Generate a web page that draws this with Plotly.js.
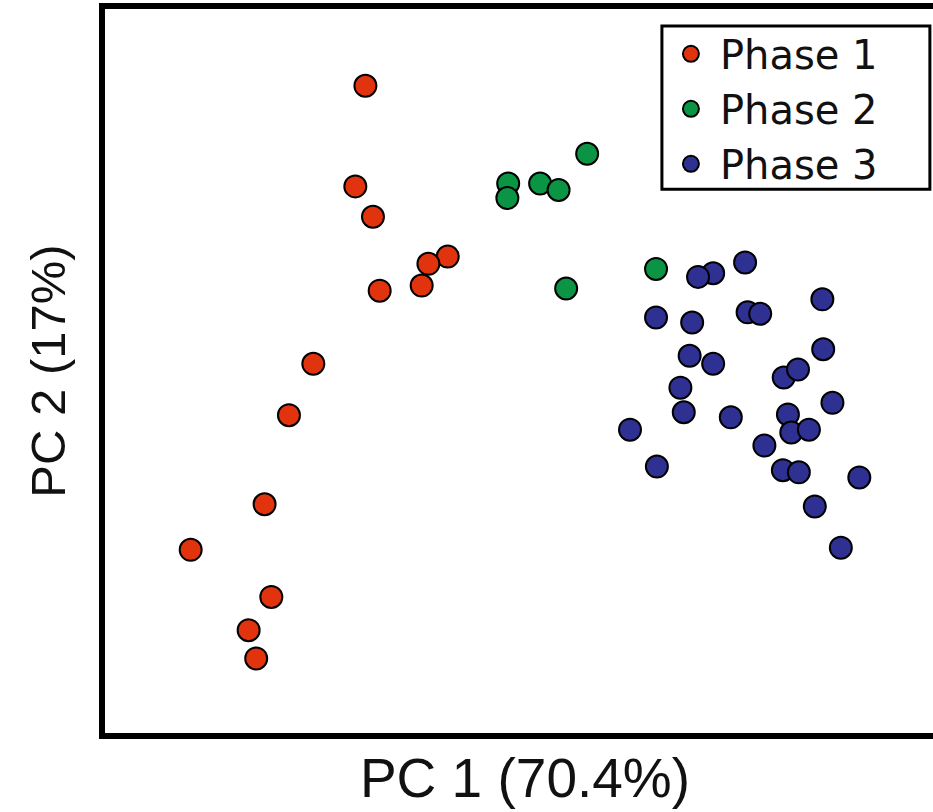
<!DOCTYPE html>
<html>
<head>
<meta charset="utf-8">
<script src="https://cdn.plot.ly/plotly-3.0.1.min.js"></script>
<style>
html,body{margin:0;padding:0;overflow:hidden;background:#fff;width:933px;height:812px;}
#chart{width:950px;height:812px;}
</style>
</head>
<body>
<div id="chart"></div>
<script>
// PCA scores (arbitrary PC units)
var phase1_pc1 = [-19.0, -20.2, -18.1, -9.2, -11.5, -12.3, -17.3, -25.2, -28.1, -31.0, -39.8, -30.2, -32.9, -32.0];
var phase1_pc2 = [39.4, 25.5, 21.3, 15.8, 14.8, 11.8, 11.1, 1.0, -6.1, -18.4, -24.7, -31.2, -35.8, -39.7];

var phase2_pc1 = [7.4, -2.0, -2.1, 1.8, 4.0, 4.9, 15.6];
var phase2_pc2 = [30.0, 25.9, 23.9, 25.9, 25.0, 11.4, 14.1];

var phase3_pc1 = [22.4, 20.6, 26.2, 35.4, 15.6, 19.9, 26.5, 28.0, 35.5, 19.6, 22.4, 30.8, 32.5, 18.5, 36.6, 18.9, 24.5, 31.3, 12.5, 31.7, 33.8, 28.5, 15.7, 30.7, 32.6, 39.8, 34.5, 37.6];
var phase3_pc2 = [13.5, 13.0, 15.0, 9.9, 7.4, 6.7, 8.1, 7.9, 3.0, 2.1, 1.0, -0.9, 0.2, -2.3, -4.4, -5.7, -6.4, -6.0, -8.1, -8.5, -8.1, -10.3, -13.2, -13.7, -14.0, -14.7, -18.7, -24.4];

var seriesNames = ["Phase 1", "Phase 2", "Phase 3"];
var seriesColors = ["#E2330F", "#0B9444", "#2E3192"];
var xTitle = "PC 1 (70.4%)";
var yTitle = "PC 2 (17%)";

var xs = [phase1_pc1, phase2_pc1, phase3_pc1];
var ys = [phase1_pc2, phase2_pc2, phase3_pc2];

var traces = seriesNames.map(function(name, i){
  return {
    type: "scatter",
    mode: "markers",
    name: name,
    x: xs[i],
    y: ys[i],
    marker: {size: 22, color: seriesColors[i], line: {color: "#000", width: 2}}
  };
});

var layout = {
  width: 950,
  height: 812,
  margin: {l: 105, r: 5, t: 9, b: 79},
  paper_bgcolor: "#fff",
  plot_bgcolor: "#fff",
  showlegend: true,
  font: {family: "Liberation Sans, Arial, sans-serif", color: "#111"},
  legend: {
    x: 0.663, xanchor: "left",
    y: 0.983, yanchor: "top",
    borderwidth: 0,
    bgcolor: "rgba(0,0,0,0)",
    font: {size: 40, color: "#111", family: "DejaVu Sans, sans-serif"},
    itemsizing: "trace",
    itemwidth: 48,
    tracegroupgap: 0
  },
  shapes: [{
    type: "rect", xref: "paper", yref: "paper",
    x0: 0.663, x1: 0.982, y0: 0.751, y1: 0.9766,
    line: {color: "#000", width: 3}, fillcolor: "rgba(0,0,0,0)", layer: "above"
  }],
  xaxis: {
    range: [-50, 50],
    showgrid: false, zeroline: false, showticklabels: false, ticks: "",
    showline: true, mirror: true, linecolor: "#000", linewidth: 6,
    title: {text: xTitle, font: {size: 55, color: "#111"}, standoff: 22}
  },
  yaxis: {
    range: [-50, 50],
    showgrid: false, zeroline: false, showticklabels: false, ticks: "",
    showline: true, mirror: true, linecolor: "#000", linewidth: 6,
    title: {text: yTitle, font: {size: 49, color: "#111"}, standoff: 20}
  }
};

Plotly.newPlot("chart", traces, layout, {displayModeBar: false, staticPlot: true});
</script>
</body>
</html>
